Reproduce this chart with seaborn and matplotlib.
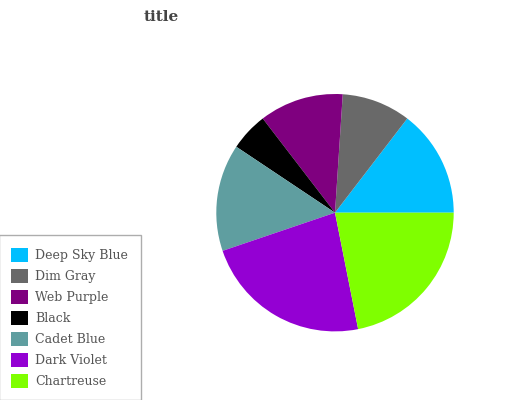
import matplotlib
matplotlib.use("Agg")
import matplotlib.pyplot as plt
import seaborn as sns
from matplotlib.patches import Patch

sns.set_theme(style="white")
plt.rcParams['font.family'] = ['DejaVu Serif']

labels = ["Deep Sky Blue", "Dim Gray", "Web Purple", "Black", "Cadet Blue", "Dark Violet", "Chartreuse"]
values = [14, 9, 11, 5, 14, 22, 21]
colors = ["#00BFFF", "#696969", "#7F007F", "#000000", "#5F9EA0", "#9400D3", "#7FFF00"]

fig = plt.figure(figsize=(5.32, 4.0), dpi=100)
W, H = 532, 400
cx, cy, r = 335, 212.7, 118.7
ax = fig.add_axes([(cx - r) / W, 1 - (cy + r) / H, 2 * r / W, 2 * r / H])
ax.pie(values, colors=colors, startangle=0, counterclock=True, radius=1.0,
       wedgeprops=dict(linewidth=0))
ax.set_xlim(-1, 1)
ax.set_ylim(-1, 1)
ax.set_aspect('auto')
ax.axis('off')

fig.text(161 / W, 1 - 17 / H, "title", ha='center', va='center',
         fontsize=11, color='#444444', fontweight='bold')

handles = [Patch(facecolor=c, edgecolor='none') for c in colors]
fs = 9.0
leg = fig.legend(handles, labels, loc='lower left', bbox_to_anchor=(-0.002, -0.001),
                 frameon=True, fontsize=fs, labelcolor='#555555',
                 handlelength=1.36, handleheight=1.33, handletextpad=0.55,
                 labelspacing=0.55, borderpad=1.0, borderaxespad=0.0, fancybox=False)
leg.get_frame().set_edgecolor('#999999')
leg.get_frame().set_linewidth(1.0)

fig.savefig("out.png", dpi=100)
